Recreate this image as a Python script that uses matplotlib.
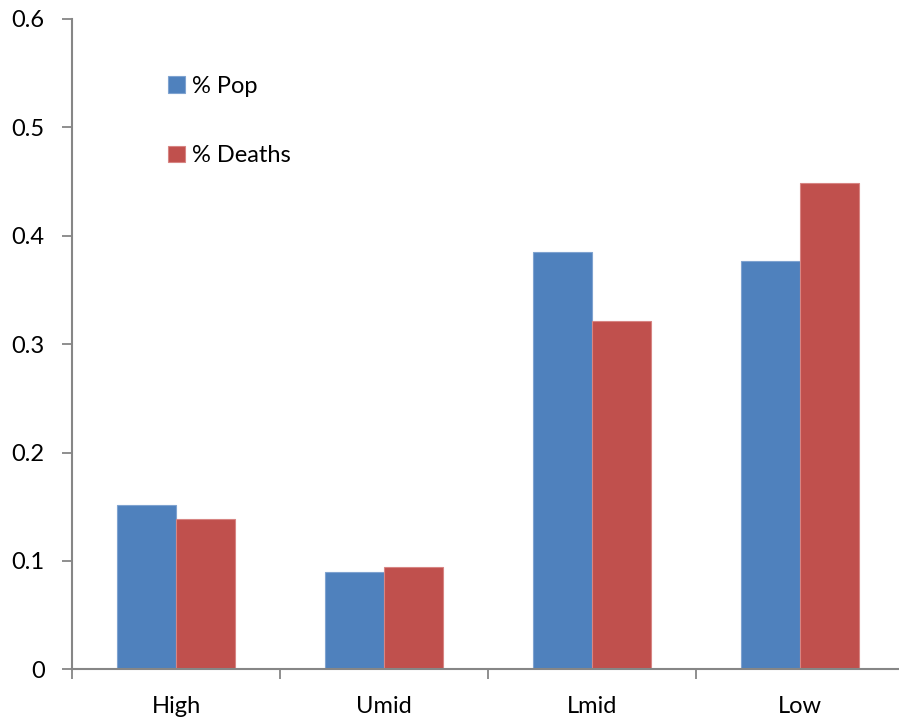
import matplotlib.pyplot as plt
import numpy as np

# income groups and the share of population / deaths in each
groups = ["High", "Umid", "Lmid", "Low"]
pct_pop = [0.152, 0.090, 0.385, 0.377]
pct_deaths = [0.139, 0.094, 0.321, 0.449]
yticks = [0, 0.1, 0.2, 0.3, 0.4, 0.5, 0.6]
ytick_labels = ["0", "0.1", "0.2", "0.3", "0.4", "0.5", "0.6"]

plt.rcParams['font.family'] = ['Lato', 'DejaVu Sans']

fig = plt.figure(figsize=(8.99, 7.22), dpi=100)
ax = fig.add_axes([0.0804, 0.073, 0.925, 0.9007])

x = np.arange(len(groups))
w = 0.285
ax.bar(x - w / 2, pct_pop, w, color="#4F81BD", edgecolor="#7FA3D0", linewidth=0.8, label="% Pop")
ax.bar(x + w / 2, pct_deaths, w, color="#C0504D", edgecolor="#D78583", linewidth=0.8, label="% Deaths")

ax.set_xlim(-0.5, 3.5)
ax.set_ylim(0, 0.6)

# axis styling
grey = "#868686"
for side in ["top", "right"]:
    ax.spines[side].set_visible(False)
for side in ["left", "bottom"]:
    ax.spines[side].set_color(grey)
    ax.spines[side].set_linewidth(1.5)

ax.set_yticks(yticks)
ax.set_yticklabels(ytick_labels)
ax.tick_params(axis="y", direction="out", length=7, width=1.3, color=grey,
               labelsize=17, pad=13)

# category names in the middle, tick marks between the groups
ax.set_xticks(x)
ax.set_xticklabels(groups)
ax.set_xticks(np.arange(-0.5, 3.6, 1), minor=True)
ax.tick_params(axis="x", which="major", length=0, labelsize=17, pad=19)
ax.tick_params(axis="x", which="minor", direction="out", length=7, width=1.3, color=grey)

ax.legend(loc="upper left", bbox_to_anchor=(0.09, 0.945), frameon=False,
          fontsize=17, handlelength=0.7, handleheight=0.7, handletextpad=0.3,
          labelspacing=2.05)

plt.savefig("out.png", dpi=100)
